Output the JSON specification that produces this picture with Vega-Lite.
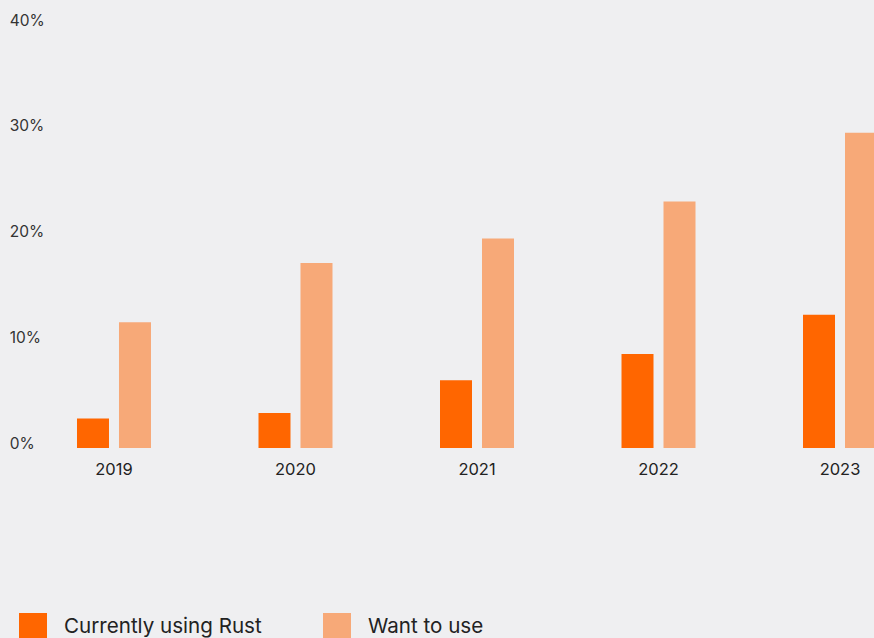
{
  "$schema": "https://vega.github.io/schema/vega-lite/v6.json",
  "autosize": "none",
  "width": 851,
  "height": 423,
  "padding": {"left": 23.25, "top": 25, "right": 0, "bottom": 190},
  "background": "#efeff1",
  "config": {"view": {"stroke": null}, "font": "Inter"},
  "data": {
    "values": [
      {"year": "2019", "group": "Currently using Rust", "value": 2.8},
      {"year": "2019", "group": "Want to use", "value": 11.9},
      {"year": "2020", "group": "Currently using Rust", "value": 3.3},
      {"year": "2020", "group": "Want to use", "value": 17.5},
      {"year": "2021", "group": "Currently using Rust", "value": 6.4},
      {"year": "2021", "group": "Want to use", "value": 19.8},
      {"year": "2022", "group": "Currently using Rust", "value": 8.9},
      {"year": "2022", "group": "Want to use", "value": 23.3},
      {"year": "2023", "group": "Currently using Rust", "value": 12.6},
      {"year": "2023", "group": "Want to use", "value": 29.8}
    ]
  },
  "mark": {"type": "bar"},
  "encoding": {
    "x": {
      "field": "year", "type": "nominal",
      "scale": {"range": [0, 907.5], "paddingInner": 0.5923, "paddingOuter": 0.2961},
      "axis": {"title": null, "domain": false, "ticks": false, "labelAngle": 0, "labelPadding": 13, "labelFontSize": 16.5, "labelColor": "#222222", "labelFont": "Inter", "grid": false}
    },
    "xOffset": {
      "field": "group", "type": "nominal",
      "scale": {"paddingInner": 0.238, "paddingOuter": 0}
    },
    "y": {
      "field": "value", "type": "quantitative",
      "scale": {"domain": [0, 40], "nice": false},
      "axis": {"title": null, "domain": false, "ticks": false, "grid": false, "values": [0, 10, 20, 30, 40], "labelExpr": "datum.value + '%'", "labelAlign": "left", "labelBaseline": "alphabetic", "labelPadding": 14, "labelFontSize": 15.5, "labelColor": "#333333", "labelFont": "Inter"}
    },
    "color": {
      "field": "group", "type": "nominal",
      "scale": {"domain": ["Currently using Rust", "Want to use"], "range": ["#ff6600", "#f7a978"]},
      "legend": {
        "title": null, "orient": "none", "direction": "horizontal",
        "legendX": -4.25, "legendY": 588, "padding": 0,
        "symbolType": "square", "symbolSize": 784, "symbolStrokeWidth": 0, "symbolOpacity": 1,
        "labelFontSize": 20.6, "labelColor": "#222222", "labelFont": "Inter", "labelOffset": 17,
        "columnPadding": 61, "labelLimit": 400
      }
    }
  }
}
